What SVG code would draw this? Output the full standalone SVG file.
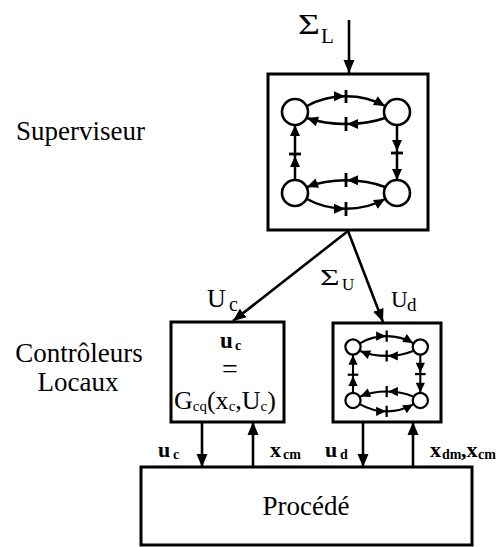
<svg xmlns="http://www.w3.org/2000/svg" xmlns:xlink="http://www.w3.org/1999/xlink" width="504" height="547" viewBox="0 0 504 547">
  <style>
    .box { fill: none; stroke: #000; stroke-width: 3; }
    .edge { fill: none; stroke: #000; stroke-width: 2.5; }
    .tick { stroke: #000; stroke-width: 2.8; }
    .st { fill: none; stroke: #000; stroke-width: 2.6; }
    .edge2 { fill: none; stroke: #000; stroke-width: 3.2; }
    .tick2 { stroke: #000; stroke-width: 3.4; }
    .st2 { fill: none; stroke: #000; stroke-width: 3.4; }
    .conn { fill: none; stroke: #000; stroke-width: 2.6; }
    .t { font-family: "Liberation Serif", "Times New Roman", serif; fill: #000; }
    .lbl { font-family: "Liberation Serif", "Times New Roman", serif; font-weight: bold; fill: #000; }
  </style>
  <defs>
    <path id="ah" d="M0,0 L-11,-5 L-11,5 Z" fill="#000"/>
    <path id="ah2" d="M0,0 L-15,-7 L-15,7 Z" fill="#000"/>
    <marker id="arr" markerUnits="userSpaceOnUse" markerWidth="14" markerHeight="12" viewBox="0 0 14 12" refX="13" refY="6" orient="auto">
      <path d="M0,0.5 L13,6 L0,11.5 Z" fill="#000"/>
    </marker>
    <g id="automaton">
      <circle class="st" cx="0" cy="0" r="13"/>
      <circle class="st" cx="102" cy="0" r="13"/>
      <circle class="st" cx="0" cy="81" r="13"/>
      <circle class="st" cx="102" cy="81" r="13"/>
      <path class="edge" d="M12,-6 C35,-19 67,-19 90,-6"/>
      <use xlink:href="#ah" transform="translate(50,-15.7)"/>
      <use xlink:href="#ah" transform="translate(90,-6) rotate(29)"/>
      <line class="tick" x1="51" y1="-22" x2="51" y2="-9"/>
      <path class="edge" d="M90,6 C67,14 35,14 12,6"/>
      <use xlink:href="#ah" transform="translate(52,12) rotate(180)"/>
      <use xlink:href="#ah" transform="translate(12,6) rotate(199)"/>
      <line class="tick" x1="51" y1="5" x2="51" y2="19"/>
      <line class="edge" x1="0" y1="68" x2="0" y2="13"/>
      <use xlink:href="#ah" transform="translate(0,44) rotate(-90)"/>
      <use xlink:href="#ah" transform="translate(0,13) rotate(-90)"/>
      <line class="tick" x1="-6" y1="42" x2="6" y2="42"/>
      <line class="edge" x1="102" y1="13" x2="102" y2="68"/>
      <use xlink:href="#ah" transform="translate(102,39) rotate(90)"/>
      <use xlink:href="#ah" transform="translate(102,68) rotate(90)"/>
      <line class="tick" x1="96" y1="41" x2="108" y2="41"/>
      <path class="edge" d="M90,75 C67,66 35,66 12,75"/>
      <use xlink:href="#ah" transform="translate(52,68.3) rotate(180)"/>
      <use xlink:href="#ah" transform="translate(12,75) rotate(159)"/>
      <line class="tick" x1="51" y1="61" x2="51" y2="75"/>
      <path class="edge" d="M12,87 C35,100 67,100 90,87"/>
      <use xlink:href="#ah" transform="translate(50,96.7)"/>
      <use xlink:href="#ah" transform="translate(90,87) rotate(-29.5)"/>
      <line class="tick" x1="51" y1="90" x2="51" y2="104"/>
    </g>
    <g id="automaton-small">
      <circle class="st2" cx="0" cy="0" r="11.5"/>
      <circle class="st2" cx="102" cy="0" r="11.5"/>
      <circle class="st2" cx="0" cy="81" r="11.5"/>
      <circle class="st2" cx="102" cy="81" r="11.5"/>
      <path class="edge2" d="M11,-6 C35,-20 67,-20 91,-6"/>
      <use xlink:href="#ah2" transform="translate(50,-16.5)"/>
      <use xlink:href="#ah2" transform="translate(91,-6) rotate(30)"/>
      <line class="tick2" x1="51" y1="-25" x2="51" y2="-8"/>
      <path class="edge2" d="M91,6 C67,16 35,16 11,6"/>
      <use xlink:href="#ah2" transform="translate(53,13.5) rotate(180)"/>
      <use xlink:href="#ah2" transform="translate(11,6) rotate(202)"/>
      <line class="tick2" x1="51" y1="5" x2="51" y2="22"/>
      <line class="edge2" x1="0" y1="69" x2="0" y2="12"/>
      <use xlink:href="#ah2" transform="translate(0,44) rotate(-90)"/>
      <use xlink:href="#ah2" transform="translate(0,12) rotate(-90)"/>
      <line class="tick2" x1="-8" y1="42" x2="8" y2="42"/>
      <line class="edge2" x1="102" y1="12" x2="102" y2="69"/>
      <use xlink:href="#ah2" transform="translate(102,39) rotate(90)"/>
      <use xlink:href="#ah2" transform="translate(102,69) rotate(90)"/>
      <line class="tick2" x1="94" y1="41" x2="110" y2="41"/>
      <path class="edge2" d="M91,75 C67,65 35,65 11,75"/>
      <use xlink:href="#ah2" transform="translate(53,67.5) rotate(180)"/>
      <use xlink:href="#ah2" transform="translate(11,75) rotate(158)"/>
      <line class="tick2" x1="51" y1="59" x2="51" y2="76"/>
      <path class="edge2" d="M11,87 C35,101 67,101 91,87"/>
      <use xlink:href="#ah2" transform="translate(50,97.5)"/>
      <use xlink:href="#ah2" transform="translate(91,87) rotate(-30)"/>
      <line class="tick2" x1="51" y1="89" x2="51" y2="106"/>
    </g>
  </defs>

  <rect width="504" height="547" fill="#fff"/>

  <g id="connectors">
    <line class="conn" x1="349" y1="20" x2="349" y2="73" marker-end="url(#arr)"/>
    <line class="conn" x1="348" y1="231" x2="233" y2="321" marker-end="url(#arr)"/>
    <line class="conn" x1="348" y1="231" x2="383" y2="322" marker-end="url(#arr)"/>
    <line class="conn" x1="202" y1="422" x2="202" y2="467" marker-end="url(#arr)"/>
    <line class="conn" x1="253" y1="467" x2="253" y2="422" marker-end="url(#arr)"/>
    <line class="conn" x1="363" y1="422" x2="363" y2="467" marker-end="url(#arr)"/>
    <line class="conn" x1="413" y1="467" x2="413" y2="422" marker-end="url(#arr)"/>
    <text class="t" font-size="29" transform="translate(298,34) scale(1.3,1)">Σ</text>
    <text class="t" font-size="21" x="321" y="43">L</text>
    <text class="t" font-size="24" transform="translate(320,285) scale(1.4,1)">Σ</text>
    <text class="t" font-size="17" x="342" y="290">U</text>
    <text class="t" font-size="26" x="207" y="307">U<tspan font-size="20" x="229" y="311">c</tspan></text>
    <text class="t" font-size="23" x="391" y="307">U<tspan font-size="19" x="407" y="311">d</tspan></text>
    <text class="lbl" font-size="22" x="158" y="457">u<tspan font-size="14" x="173" y="459">c</tspan></text>
    <text class="lbl" font-size="22" x="270" y="457">x<tspan font-size="14" x="283" y="459">cm</tspan></text>
    <text class="lbl" font-size="22" x="325" y="457">u<tspan font-size="14" x="340" y="459">d</tspan></text>
    <text class="lbl" font-size="22" x="430" y="457">x<tspan font-size="14" x="442" y="459">dm</tspan><tspan x="461" y="457">,x</tspan><tspan font-size="14" x="478" y="459">cm</tspan></text>
  </g>

  <g id="label-superviseur">
    <text class="t" font-size="27" x="16" y="140">Superviseur</text>
  </g>
  <g id="label-controleurs">
    <text class="t" font-size="27" x="79" y="362" text-anchor="middle">Contrôleurs</text>
    <text class="t" font-size="27" x="78" y="391" text-anchor="middle">Locaux</text>
  </g>

  <g id="superviseur">
    <rect class="box" x="268" y="74" width="160" height="156"/>
    <use xlink:href="#automaton" transform="translate(295,112)"/>
  </g>

  <g id="controleur-c">
    <rect class="box" x="171" y="322" width="113" height="100"/>
    <text class="lbl" font-size="23" x="220" y="348">u<tspan font-size="14" x="235" y="350">c</tspan></text>
    <text class="t" font-size="28" x="230" y="378" text-anchor="middle">=</text>
    <text class="t" font-size="26" x="174" y="409">G<tspan font-size="15" y="411">cq</tspan><tspan y="409">(x</tspan><tspan font-size="15" y="411">c</tspan><tspan y="409">,U</tspan><tspan font-size="15" y="411">c</tspan><tspan y="409">)</tspan></text>
  </g>

  <g id="controleur-d">
    <rect class="box" x="333" y="323" width="108" height="99"/>
    <use xlink:href="#automaton-small" transform="translate(353,347) scale(0.66)"/>
  </g>

  <g id="procede">
    <rect class="box" x="141" y="467" width="331" height="78"/>
    <text class="t" font-size="27" x="306" y="515" text-anchor="middle">Procédé</text>
  </g>
</svg>
